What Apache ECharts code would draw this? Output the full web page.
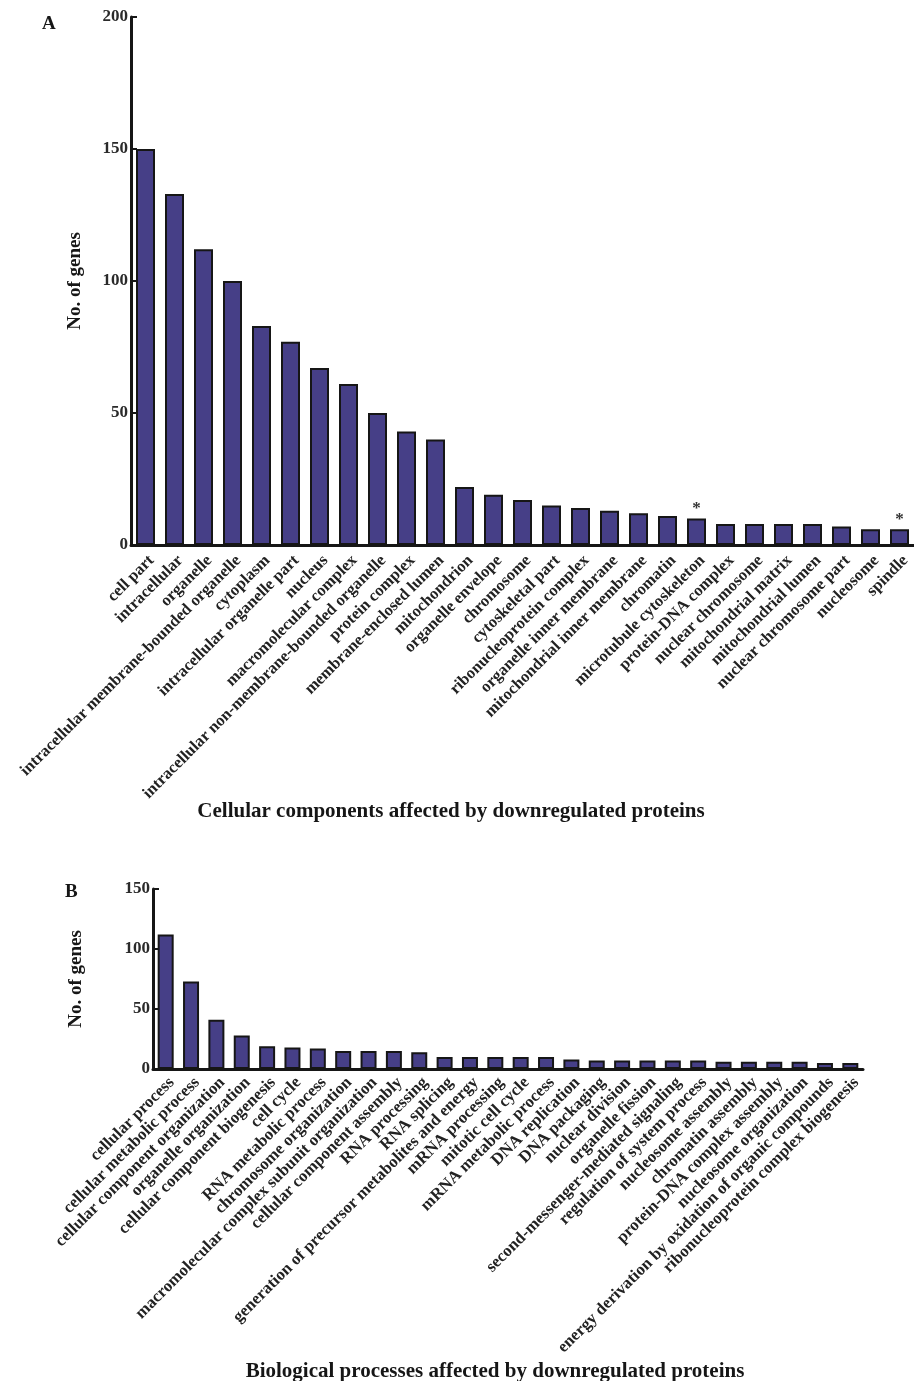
<!DOCTYPE html>
<html>
<head>
<meta charset="utf-8">
<script src="https://cdn.jsdelivr.net/npm/echarts@6/dist/echarts.min.js"></script>
<style>
  html, body { margin: 0; padding: 0; background: #ffffff; }
  #chart { width: 914px; height: 1381px; }
</style>
</head>
<body>
<div id="chart"></div>
<script>
// Panel A: cellular components
const componentCategories = [
  'cell part', 'intracellular', 'organelle', 'intracellular membrane-bounded organelle',
  'cytoplasm', 'intracellular organelle part', 'nucleus', 'macromolecular complex',
  'intracellular non-membrane-bounded organelle', 'protein complex', 'membrane-enclosed lumen',
  'mitochondrion', 'organelle envelope', 'chromosome', 'cytoskeletal part',
  'ribonucleoprotein complex', 'organelle inner membrane', 'mitochondrial inner membrane',
  'chromatin', 'microtubule cytoskeleton', 'protein-DNA complex', 'nuclear chromosome',
  'mitochondrial matrix', 'mitochondrial lumen', 'nuclear chromosome part', 'nucleosome', 'spindle'
];
const componentCounts = [
  150, 133, 112, 100, 83, 77, 67, 61, 50, 43, 40,
  22, 19, 17, 15, 14, 13, 12, 11, 10, 8, 8, 8, 8, 7, 6, 6
];
const componentStarred = ['microtubule cytoskeleton', 'spindle'];
const componentTicks = [0, 50, 100, 150, 200];

// Panel B: biological processes
const processCategories = [
  'cellular process', 'cellular metabolic process', 'cellular component organization',
  'organelle organization', 'cellular component biogenesis', 'cell cycle',
  'RNA metabolic process', 'chromosome organization',
  'macromolecular complex subunit organization', 'cellular component assembly',
  'RNA processing', 'RNA splicing', 'generation of precursor metabolites and energy',
  'mRNA processing', 'mitotic cell cycle', 'mRNA metabolic process', 'DNA replication',
  'DNA packaging', 'nuclear division', 'organelle fission',
  'second-messenger-mediated signaling', 'regulation of system process',
  'nucleosome assembly', 'chromatin assembly', 'protein-DNA complex assembly',
  'nucleosome organization', 'energy derivation by oxidation of organic compounds',
  'ribonucleoprotein complex biogenesis'
];
const processCounts = [
  112, 73, 41, 28, 19, 18, 17, 15, 15, 15, 14,
  10, 10, 10, 10, 10, 8, 7, 7, 7, 7, 7, 6, 6, 6, 6, 5, 5
];
const processTicks = [0, 50, 100, 150];

const SERIF = '"Liberation Serif", "Times New Roman", serif';
const INK = '#161616';
const BAR = '#463F87';

function valueAxis(gridIndex, ticks, nameGap) {
  return {
    type: 'value',
    gridIndex: gridIndex,
    min: ticks[0],
    max: ticks[ticks.length - 1],
    interval: ticks[1] - ticks[0],
    name: 'No. of genes',
    nameLocation: 'middle',
    nameRotate: 90,
    nameGap: nameGap,
    nameTextStyle: { fontFamily: SERIF, fontWeight: 'bold', fontSize: 19, color: INK },
    axisLine: { show: true, lineStyle: { color: INK, width: 3 } },
    axisTick: { show: true, inside: true, length: 6, lineStyle: { color: INK, width: 2 } },
    axisLabel: { margin: 3, fontFamily: SERIF, fontWeight: 'bold', fontSize: 17, color: '#2a2a2a' },
    splitLine: { show: false }
  };
}

function categoryAxis(gridIndex, cats, fontSize, margin) {
  return {
    type: 'category',
    gridIndex: gridIndex,
    data: cats,
    axisLine: { show: true, lineStyle: { color: INK, width: 3 } },
    axisTick: { show: false },
    axisLabel: {
      interval: 0, rotate: 45, margin: margin, verticalAlign: 'top',
      fontFamily: SERIF, fontWeight: 'bold', fontSize: fontSize, color: '#222'
    }
  };
}

function barSeries(axisIndex, values, barWidth, starred, cats) {
  return {
    type: 'bar',
    xAxisIndex: axisIndex,
    yAxisIndex: axisIndex,
    data: values,
    barWidth: barWidth,
    itemStyle: { color: BAR, borderColor: INK, borderWidth: 2 },
    label: {
      show: starred.length > 0,
      position: 'top',
      distance: 1,
      fontFamily: SERIF,
      fontWeight: 'bold',
      fontSize: 17,
      color: '#333',
      formatter: function (p) { return starred.indexOf(cats[p.dataIndex]) >= 0 ? '*' : ''; }
    },
    silent: true,
    animation: false
  };
}

const chart = echarts.init(document.getElementById('chart'), null, { renderer: 'canvas' });
chart.setOption({
  backgroundColor: '#ffffff',
  animation: false,
  grid: [
    { left: 131, top: 17, width: 783, height: 528 },
    { left: 153, top: 889, width: 710, height: 180 }
  ],
  xAxis: [
    categoryAxis(0, componentCategories, 16.5, 7),
    categoryAxis(1, processCategories, 16.8, 5)
  ],
  yAxis: [valueAxis(0, componentTicks, 46), valueAxis(1, processTicks, 67)],
  series: [
    barSeries(0, componentCounts, 19, componentStarred, componentCategories),
    barSeries(1, processCounts, 16, [], processCategories)
  ],
  graphic: [
    { type: 'text', left: 42, top: 15,
      style: { text: 'A', font: 'bold 19px ' + SERIF, fill: INK } },
    { type: 'text', left: 65, top: 883,
      style: { text: 'B', font: 'bold 19px ' + SERIF, fill: INK } },
    { type: 'text', x: 451, y: 812,
      style: { text: 'Cellular components affected by downregulated proteins',
               font: 'bold 21px ' + SERIF, fill: INK, align: 'center', verticalAlign: 'middle' } },
    { type: 'text', x: 495, y: 1372,
      style: { text: 'Biological processes affected by downregulated proteins',
               font: 'bold 21px ' + SERIF, fill: INK, align: 'center', verticalAlign: 'middle' } }
  ]
});
</script>
</body>
</html>
